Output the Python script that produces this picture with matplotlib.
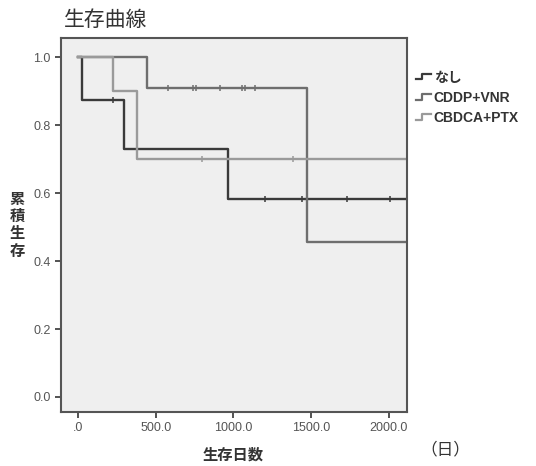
import matplotlib
matplotlib.use("Agg")
import matplotlib.pyplot as plt
from matplotlib.lines import Line2D
from matplotlib.legend_handler import HandlerBase

plt.rcParams['font.family'] = ['Liberation Sans', 'Noto Sans CJK JP', 'DejaVu Sans']

# Kaplan-Meier steps (days, cumulative survival after each time)
groups = ['なし', 'CDDP+VNR', 'CBDCA+PTX']
colors = ['#3a3a3a', '#6e6e6e', '#9a9a9a']

nashi_t = [0, 25, 296, 965, 2200]
nashi_s = [1.0, 0.875, 0.729, 0.583, 0.583]
nashi_cens_t = [225, 1203, 1441, 1730, 2006]
nashi_cens_s = [0.875, 0.583, 0.583, 0.583, 0.583]

cddp_t = [0, 444, 1473, 2200]
cddp_s = [1.0, 0.909, 0.455, 0.455]
cddp_cens_t = [579, 740, 759, 913, 1055, 1074, 1138]
cddp_cens_s = [0.909] * 7

cbdca_t = [0, 225, 379, 2200]
cbdca_s = [1.0, 0.9, 0.7, 0.7]
cbdca_cens_t = [797, 1383]
cbdca_cens_s = [0.7, 0.7]

x_ticks = [0, 500, 1000, 1500, 2000]
x_ticklabels = ['.0', '500.0', '1000.0', '1500.0', '2000.0']
y_ticks = [0.0, 0.2, 0.4, 0.6, 0.8, 1.0]
y_ticklabels = ['0.0', '0.2', '0.4', '0.6', '0.8', '1.0']


class StepHandler(HandlerBase):
    # small step glyph used as the legend key
    def create_artists(self, legend, orig_handle, xdescent, ydescent,
                       width, height, fontsize, trans):
        x0, x1 = -xdescent, -xdescent + width
        xm = x0 + width * 0.45
        ylo, yhi = -ydescent + height * 0.25, -ydescent + height * 0.85
        ln = Line2D([x0, xm, xm, x1], [ylo, ylo, yhi, yhi],
                    color=orig_handle.get_color(), lw=1.6, transform=trans)
        return [ln]


fig = plt.figure(figsize=(5.36, 4.66), dpi=100)
ax = fig.add_axes([0.114, 0.116, 0.645, 0.802])
ax.set_facecolor('#efefef')

series = [
    (nashi_t, nashi_s, nashi_cens_t, nashi_cens_s),
    (cddp_t, cddp_s, cddp_cens_t, cddp_cens_s),
    (cbdca_t, cbdca_s, cbdca_cens_t, cbdca_cens_s),
]
handles = []
for name, col, (t, s, ct, cs) in zip(groups, colors, series):
    h, = ax.step(t, s, where='post', color=col, lw=1.7, label=name)
    ax.plot(ct, cs, ls='none', marker='|', ms=4.5, mew=1.1, color=col)
    handles.append(h)

ax.set_xlim(-109, 2116)
ax.set_ylim(-0.044, 1.056)
ax.set_xticks(x_ticks)
ax.set_xticklabels(x_ticklabels)
ax.set_yticks(y_ticks)
ax.set_yticklabels(y_ticklabels)
ax.tick_params(direction='out', length=4, width=1.3, color='#444',
               labelsize=9, labelcolor='#555')
for sp in ax.spines.values():
    sp.set_color('#555')
    sp.set_linewidth(1.5)

leg = fig.legend(handles=handles, labels=groups,
                 handler_map={Line2D: StepHandler()},
                 loc='upper left', bbox_to_anchor=(0.765, 0.86),
                 frameon=False, handlelength=1.1, handletextpad=0.2,
                 labelspacing=0.45, borderaxespad=0,
                 prop={'size': 10, 'weight': 'bold'})
for txt in leg.get_texts():
    txt.set_color('#333')

fig.text(0.119, 0.957, '生存曲線', fontsize=15, color='#333',
         family=['Noto Sans CJK JP'], va='center', ha='left')
fig.text(0.032, 0.518, '\n'.join('累積生存'), fontsize=11, fontweight='bold',
         color='#333', family=['Noto Sans CJK JP'], ha='center', va='center',
         linespacing=1.1)
fig.text(0.434, 0.025, '生存日数', fontsize=11, fontweight='bold', color='#333',
         family=['Noto Sans CJK JP'], ha='center', va='center')
fig.text(0.83, 0.035, '（日）', fontsize=12, color='#333',
         family=['Noto Sans CJK JP'], ha='center', va='center')

fig.savefig('out.png', dpi=100)
